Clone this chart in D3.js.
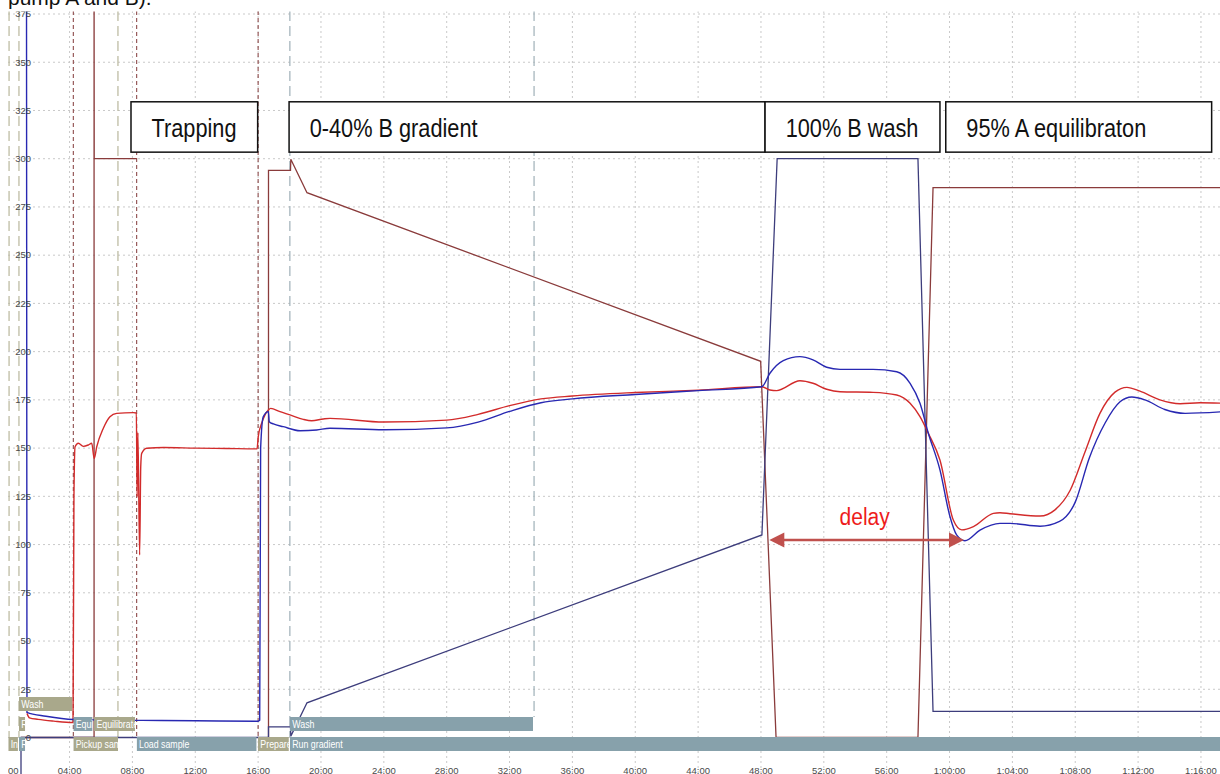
<!DOCTYPE html>
<html><head><meta charset="utf-8">
<script src="https://cdn.jsdelivr.net/npm/d3@7"></script>
<style>
html,body{margin:0;padding:0;background:#fff;}
svg{display:block;}
</style></head><body>
<svg id="chart" width="1220" height="774"></svg>
<script>
// ---- data (time in minutes) ----
const timeTicks = [0,4,8,12,16,20,24,28,32,36,40,44,48,52,56,60,64,68,72,76];
const timeTickLabels = ["00:00","04:00","08:00","12:00","16:00","20:00","24:00","28:00","32:00","36:00",
  "40:00","44:00","48:00","52:00","56:00","1:00:00","1:04:00","1:08:00","1:12:00","1:16:00"];
const valueTicks = [0,25,50,75,100,125,150,175,200,225,250,275,300,325,350,375];

// pump A pressure (red trace)
const pressureA = [
  [1.29,12.5],[1.45,10.2],[2.0,9.4],[3.0,8.5],[4.22,7.8],[4.28,124.8],[4.35,150.7],[4.56,152.5],
  [4.87,150.9],[5.19,151.6],[5.41,152.5],[5.57,144.7],[5.73,150.7],[6.15,160.3],[6.57,166.3],
  [7.0,168.0],[8.06,168.4],[8.25,168.2],[8.30,124.8],[8.35,158.0],[8.46,94.6],[8.53,140.4],
  [8.59,147.3],[8.91,149.9],[10,150.3],[12,150.0],[14,149.8],[15.93,149.6],[16.01,156.0],
  [16.23,163.0],[16.44,167.2],[16.65,169.7],[16.8,170.6],[17.39,168.9],[18.03,167.2],
  [18.87,164.9],[19.41,164.2],[20.15,165.1],[20.57,165.4],[24,163.5],[28,164.5],[30,167.5],
  [32,172],[34,175.5],[36,177],[40,178.8],[44,180],[48.05,181.8],[48.57,180.1],[49.0,179.8],
  [50.48,184.9],[51.31,183.6],[52.18,180.5],[53.03,179.2],[55.13,178.9],[56.64,177.5],
  [57.49,173.2],[58.12,166.3],[58.65,157.7],[59.39,143.8],[60.24,112.7],[60.78,107.6],
  [61.52,109.3],[62.79,116.2],[63.21,116.5],[63.85,116],[65.76,114.8],[66.71,118],[67.67,128],
  [68.62,148],[69.57,168],[70.53,179],[71.29,181.5],[72.12,179.5],[73.39,175],[74.67,173],
  [75.94,173.5],[77.3,173.3]
];

// pump B pressure (blue trace)
const pressureB = [
  [1.26,390],[1.29,13.0],[2.5,11.0],[4.24,9.3],[6,9.1],[8.3,8.9],[12,8.7],[15.95,8.4],
  [16.1,9],[16.16,150],[16.33,166.3],[16.65,168.9],[16.71,163.7],[16.97,162.5],[17.6,161.1],
  [18.67,159.0],[19.73,159.4],[20.57,160.3],[24,159.5],[28,160.5],[30,163.5],[32,169],[34,173.5],
  [36,175.5],[40,177.8],[44,179.8],[48.05,181.8],[48.57,188.8],[49.42,195.3],[50.48,197.4],
  [51.31,195.7],[52.18,191.9],[53.03,190.8],[55.13,190.8],[56.64,189.6],[57.49,183.6],
  [58.12,173.2],[58.65,157.7],[59.39,138.7],[60.03,114.4],[60.45,105],[60.98,102],[61.94,107.5],
  [63.21,111],[63.85,111],[65.76,109.5],[67.0,112],[68.0,122],[68.9,145],[69.9,163],[70.85,174],
  [71.6,176.5],[72.44,175],[73.7,170],[74.99,168],[77.3,168.8]
];

// pump A flow (dark red), null marks a gap in the log
const flowA = [
  [0.91,0],[5.56,0],[5.56,400],[5.57,300],[8.27,300],[8.27,null],
  [16.66,0],[16.66,294],[18.06,294],[18.08,299.7],[19.11,282.4],[47.98,195],[48.96,0],
  [57.99,0],[58.95,285],[77.3,285]
];

// pump B flow (navy)
const flowB = [
  [0.91,-25],[0.91,0],[16.66,0],[16.66,5.5],[18.06,5.5],[18.08,0.7],[19.11,18],[48.06,105],
  [49.03,300],[57.99,300],[58.95,13.5],[77.3,13.5]
];

// method steps shown as bars under the traces
const stepNames  = ["Wash","R","Equi","Equilibrate","Wash","In","R","Pickup sam","Load sample","Prepare","Run gradient"];
const stepStart  = [0.78, 0.78, 4.24, 5.56, 18.02, 0.10, 0.78, 4.24, 8.27, 15.99, 18.02];
const stepEnd    = [4.24, 1.24, 5.53, 8.23, 33.56, 0.78, 1.24, 7.15, 15.97, 18.02, 78.0];
const stepLane   = [0, 1, 1, 1, 1, 2, 2, 2, 2, 2, 2];
const stepGroup  = ["sample","sample","pump","sample","pump","sample","pump","sample","pump","sample","pump"];

// step boundaries drawn as vertical markers
const markTimes  = [0.15, 0.78, 4.24, 7.08, 8.27, 16.0, 18.02, 33.56];
const markGroup  = ["sample","sample","valve","sample","valve","valve","pump","pump"];

// phase annotations
const phaseNames = ["Trapping","0-40% B gradient","100% B wash","95% A equilibraton"];
const phaseStart = [7.91, 17.97, 48.26, 59.76];
const phaseEnd   = [15.97, 48.26, 59.39, 76.68];

// delay between programmed and observed change
const delayFrom = 48.53, delayTo = 60.92, delayLevel = 102.4;

// ---- drawing ----
const W = 1220, H = 774;
const svg = d3.select("#chart");
const x = d3.scaleLinear().domain([0, 76]).range([6.7, 1200.96]);
const y = d3.scaleLinear().domain([0, 375]).range([737.5, 14.01]);

const defs = svg.append("defs");
defs.append("clipPath").attr("id", "plot").append("rect")
  .attr("x", 8).attr("y", 11.5).attr("width", W - 8).attr("height", H - 11.5);

const font = "'Liberation Sans', Arial, sans-serif";

// title line running off the top
svg.append("text").attr("x", 8).attr("y", 4.5)
  .attr("font-family", font).attr("font-size", 21).attr("fill", "#111")
  .text("pump A and B).");

const plot = svg.append("g").attr("clip-path", "url(#plot)");

// grid
plot.append("g").selectAll("line").data(valueTicks).join("line")
  .attr("x1", 8).attr("x2", W).attr("y1", d => y(d)).attr("y2", d => y(d))
  .attr("stroke", "#c9c9c9").attr("stroke-width", 1).attr("stroke-dasharray", "2,3");
plot.append("g").selectAll("line").data(timeTicks).join("line")
  .attr("x1", d => x(d)).attr("x2", d => x(d)).attr("y1", 11).attr("y2", H)
  .attr("stroke", "#c9c9c9").attr("stroke-width", 1).attr("stroke-dasharray", "2,3");

// step markers
const markStyle = {
  sample: {stroke: "#b9b79c", dash: "10,5", w: 1.2},
  pump:   {stroke: "#9fb0b8", dash: "10,5", w: 1.2},
  valve:  {stroke: "#8d4a4a", dash: "4,3", w: 1.1}
};
plot.append("g").selectAll("line").data(markTimes).join("line")
  .attr("x1", d => x(d)).attr("x2", d => x(d))
  .attr("y1", 11).attr("y2", (d, i) => markGroup[i] === "pump" && d > 30 ? 717 : 737)
  .attr("stroke", (d, i) => markStyle[markGroup[i]].stroke)
  .attr("stroke-width", (d, i) => markStyle[markGroup[i]].w)
  .attr("stroke-dasharray", (d, i) => markStyle[markGroup[i]].dash);

// traces
const line = d3.line().defined(d => d[1] !== null).x(d => x(d[0])).y(d => y(d[1]));
const smooth = d3.line().x(d => x(d[0])).y(d => y(d[1])).curve(d3.curveMonotoneX);

plot.append("path").datum(flowA).attr("d", line)
  .attr("fill", "none").attr("stroke", "#8a3b3b").attr("stroke-width", 1.3);
plot.append("path").datum(flowB).attr("d", line)
  .attr("fill", "none").attr("stroke", "#3d3d7c").attr("stroke-width", 1.3);
plot.append("path").datum(pressureA).attr("d", smooth)
  .attr("fill", "none").attr("stroke", "#d22b2b").attr("stroke-width", 1.4);
plot.append("path").datum(pressureB).attr("d", smooth)
  .attr("fill", "none").attr("stroke", "#2828b2").attr("stroke-width", 1.4);

// step bars
const laneTop = [697, 717, 737];
const laneH = 14;
const stepFill = {sample: "#a9a88b", pump: "#87a1ab"};
const steps = plot.append("g").selectAll("g").data(stepNames).join("g");
steps.each(function(name, i) {
  const x0 = Math.max(8, x(stepStart[i])), x1 = x(stepEnd[i]) - 1;
  const cid = "step" + i;
  defs.append("clipPath").attr("id", cid).append("rect")
    .attr("x", x0).attr("y", laneTop[stepLane[i]]).attr("width", Math.max(0, x1 - x0)).attr("height", laneH);
  const g = d3.select(this).append("g").attr("clip-path", `url(#${cid})`);
  g.append("rect").attr("x", x0).attr("y", laneTop[stepLane[i]])
    .attr("width", Math.max(0, x1 - x0)).attr("height", laneH)
    .attr("fill", stepFill[stepGroup[i]]);
  g.append("text")
    .attr("transform", `translate(${x0 + 2.4},${laneTop[stepLane[i]] + 10.6}) scale(0.8,1)`)
    .attr("font-family", font).attr("font-size", 11).attr("fill", "#fff")
    .text(name);
});

// axis labels
const axisG = svg.append("g").attr("clip-path", "url(#plot)");
axisG.append("g").selectAll("text").data(valueTicks).join("text")
  .attr("x", 31).attr("y", d => y(d)).attr("dy", "0.35em").attr("text-anchor", "end")
  .attr("font-family", font).attr("font-size", 9.5).attr("fill", "#4a4a4a")
  .text(d => d);
axisG.append("g").selectAll("text").data(timeTicks).join("text")
  .attr("x", d => x(d)).attr("y", 773.5).attr("text-anchor", "middle")
  .attr("font-family", font).attr("font-size", 9.5).attr("fill", "#4a4a4a")
  .text((d, i) => timeTickLabels[i]);

// phase boxes
const boxTop = y(329.5), boxBottom = y(303.4);
const phases = svg.append("g").selectAll("g").data(phaseNames).join("g");
phases.append("rect")
  .attr("x", (d, i) => x(phaseStart[i])).attr("y", boxTop)
  .attr("width", (d, i) => x(phaseEnd[i]) - x(phaseStart[i])).attr("height", boxBottom - boxTop)
  .attr("fill", "#fff").attr("stroke", "#111").attr("stroke-width", 1.5);
phases.append("text")
  .attr("transform", (d, i) => `translate(${x(phaseStart[i]) + 20.6},${boxTop + 35.5}) scale(0.82,1)`)
  .attr("font-family", font).attr("font-size", 26.5).attr("fill", "#111")
  .text(d => d);

// delay arrow
const ay = y(delayLevel), ax0 = x(delayFrom), ax1 = x(delayTo);
const arrowCol = "#c0504d";
const ag = svg.append("g");
ag.append("line").attr("x1", ax0 + 12).attr("x2", ax1 - 12).attr("y1", ay).attr("y2", ay)
  .attr("stroke", arrowCol).attr("stroke-width", 2.6);
ag.append("path").attr("d", `M${ax0},${ay}L${ax0 + 15},${ay - 7.5}L${ax0 + 15},${ay + 7.5}Z`).attr("fill", arrowCol);
ag.append("path").attr("d", `M${ax1},${ay}L${ax1 - 15},${ay - 7.5}L${ax1 - 15},${ay + 7.5}Z`).attr("fill", arrowCol);
ag.append("text")
  .attr("transform", `translate(${(ax0 + ax1) / 2 - 2},${ay - 15}) scale(0.86,1)`)
  .attr("text-anchor", "middle").attr("font-family", font).attr("font-size", 24.5)
  .attr("fill", "#ee1c1c").text("delay");
</script>
</body></html>
